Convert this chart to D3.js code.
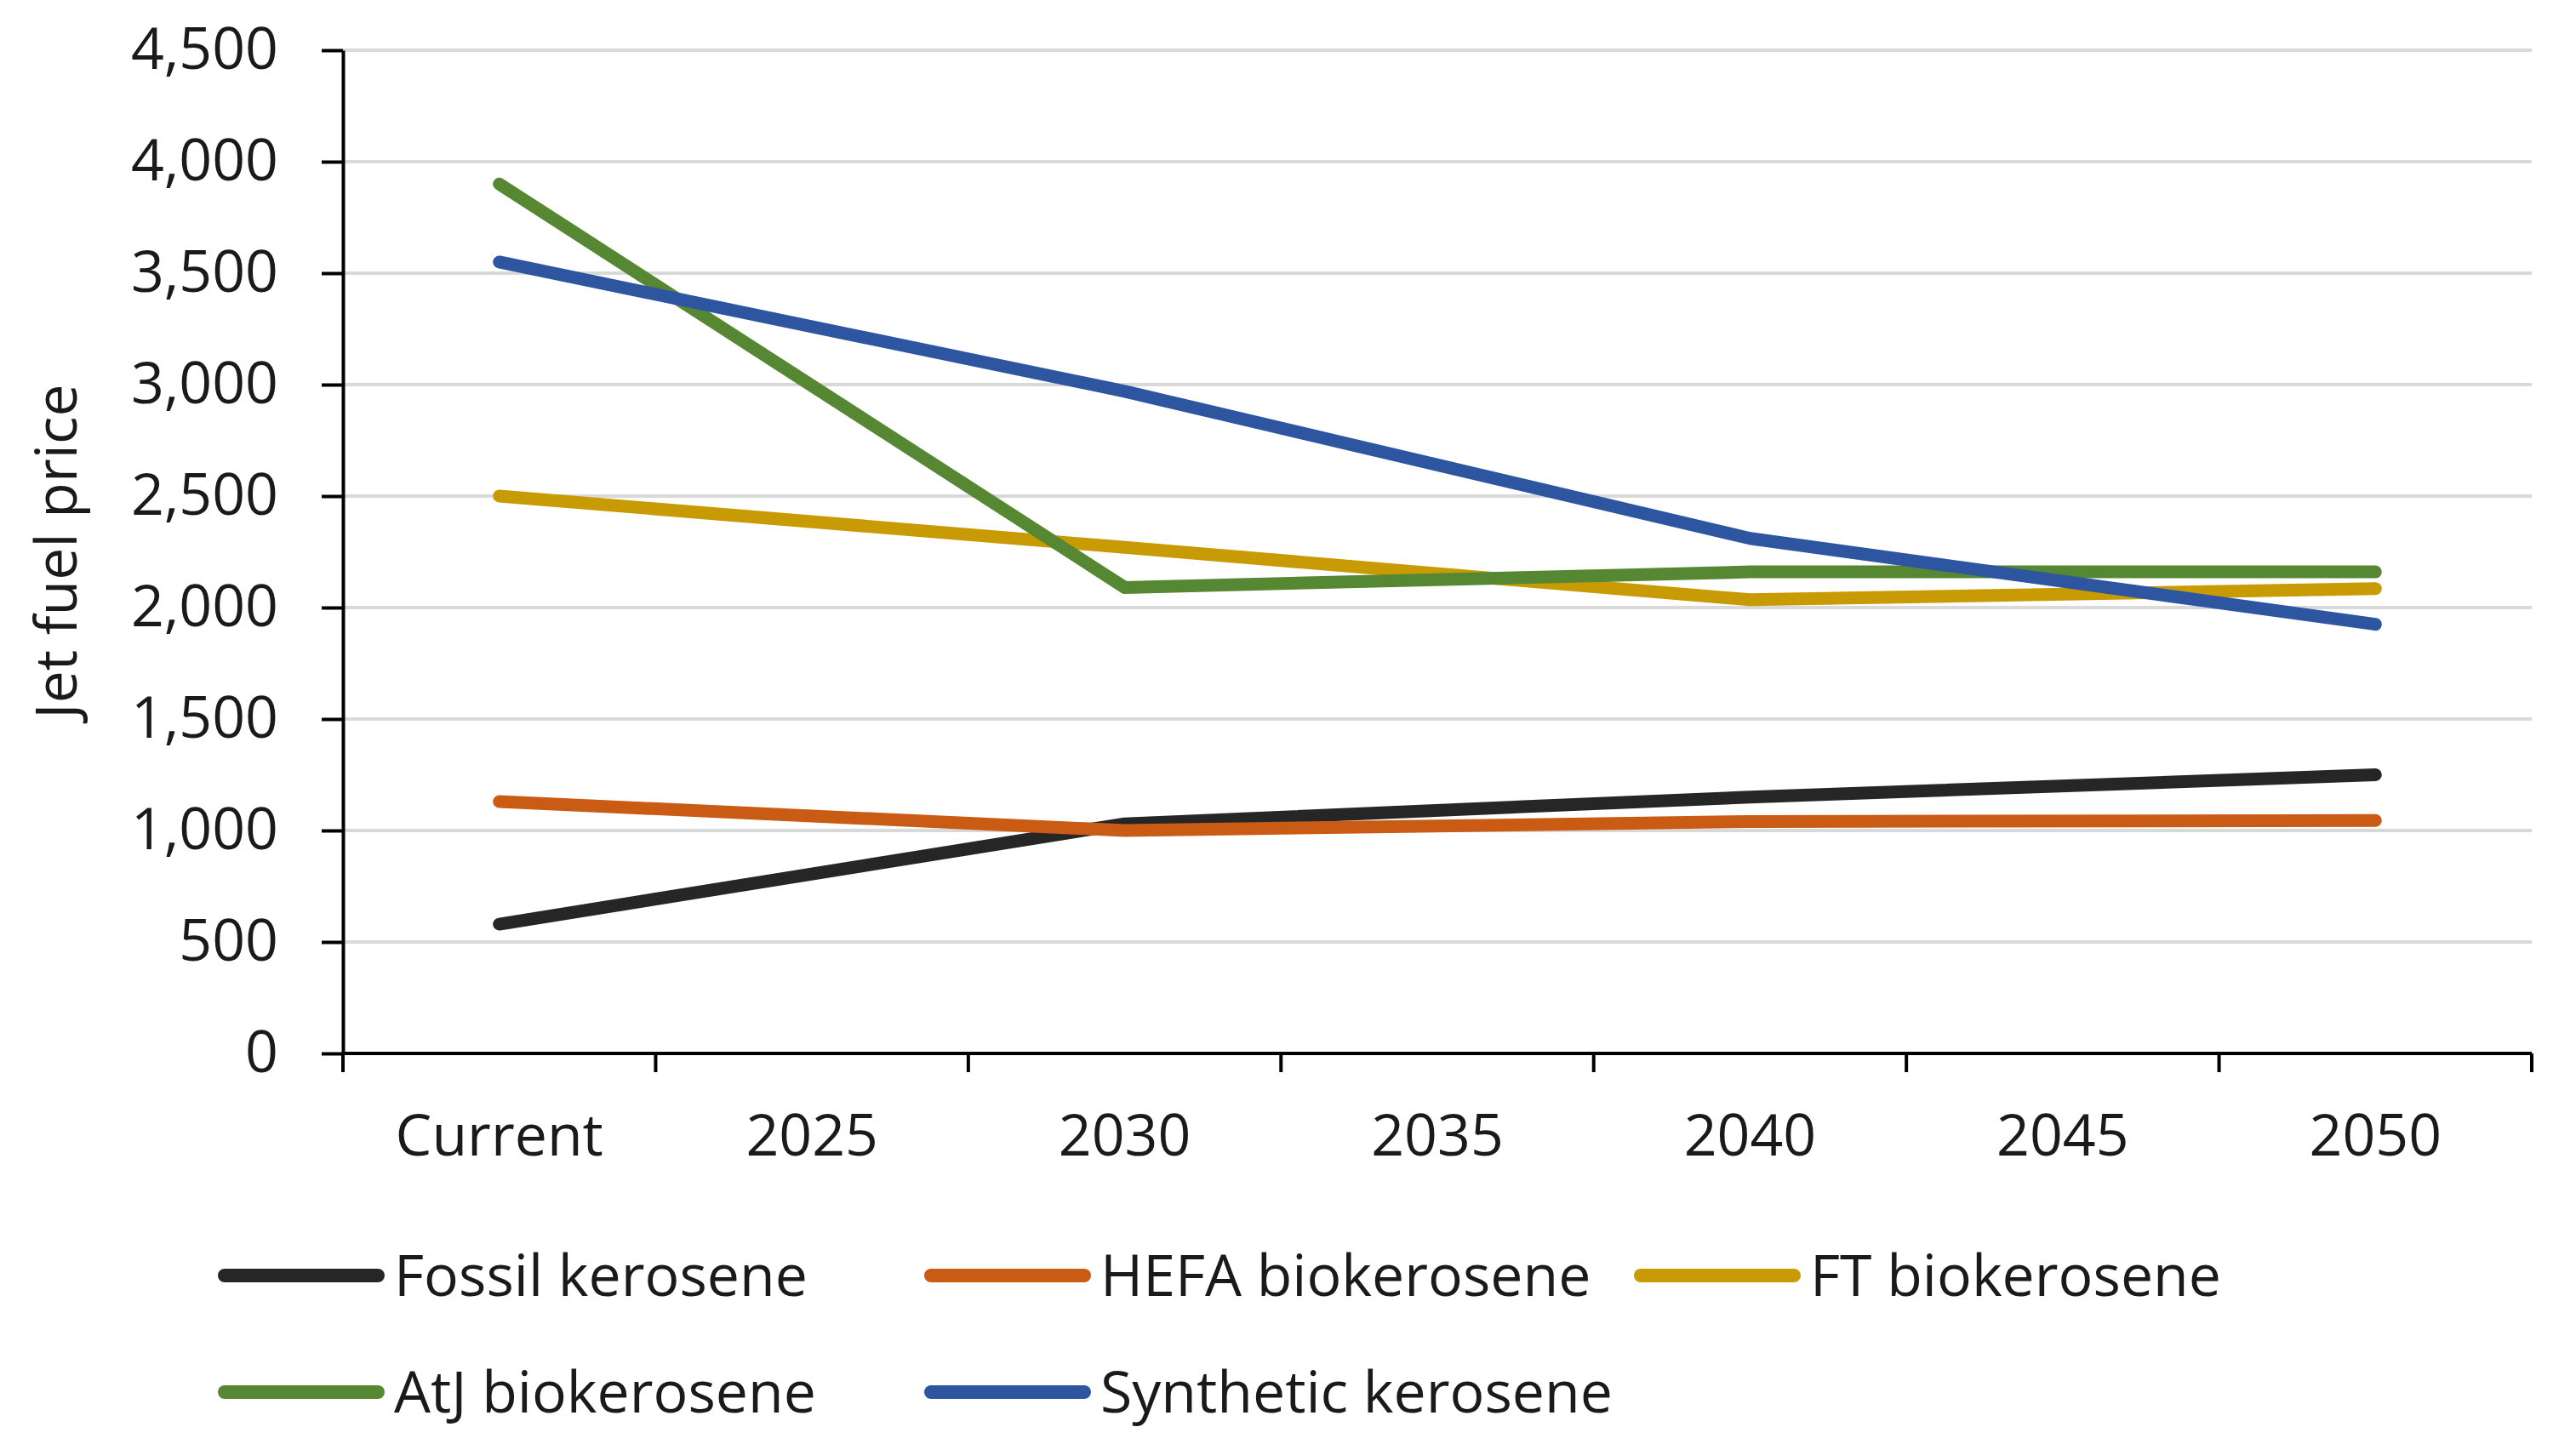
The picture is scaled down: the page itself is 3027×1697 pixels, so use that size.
<head>
    <meta charset="utf-8" />
    <script src="https://d3js.org/d3.v7.min.js"></script>
</head>
<style>
    body { margin: 0; background: #fff; }
    text { font-family: "Open Sans", sans-serif; fill: #1a1a1a; }
</style>
<body>
</body>
<script>
// categories on the x axis
var categories = ["Current", "2025", "2030", "2035", "2040", "2045", "2050"];

// jet fuel price per series (null = no value for that category)
var fossil    = [580,  null, 1030, null, 1150, null, 1250];
var hefa      = [1130, null, 1000, null, 1040, null, 1045];
var ft        = [2500, null, 2270, null, 2035, null, 2085];
var atj       = [3900, null, 2090, null, 2160, null, 2160];
var synthetic = [3550, null, 2970, null, 2310, null, 1925];

var seriesNames  = ["Fossil kerosene", "HEFA biokerosene", "FT biokerosene", "AtJ biokerosene", "Synthetic kerosene"];
var seriesValues = [fossil, hefa, ft, atj, synthetic];
var seriesColors = ["#262626", "#C95B14", "#C89B04", "#568733", "#2E56A0"];

var yTicks = [0, 500, 1000, 1500, 2000, 2500, 3000, 3500, 4000, 4500];

var svg = d3.select("body")
    .append("svg")
    .attr("width", 3027)
    .attr("height", 1697);

var x = d3.scaleBand()
    .domain(categories)
    .range([403, 2975]);

var y = d3.scaleLinear()
    .domain([0, 4500])
    .range([1238, 59]);

// gridlines
svg.append("g")
    .selectAll("line")
    .data(yTicks.filter(function (d) { return d > 0; }))
    .enter()
    .append("line")
        .attr("x1", 403)
        .attr("x2", 2975)
        .attr("y1", function (d) { return y(d); })
        .attr("y2", function (d) { return y(d); })
        .attr("stroke", "#d9d9d9")
        .attr("stroke-width", 4);

// y axis
var yAxis = svg.append("g")
    .attr("transform", "translate(403,0)")
    .call(d3.axisLeft(y)
        .tickValues(yTicks)
        .tickFormat(d3.format(","))
        .tickSize(25)
        .tickSizeOuter(0)
        .tickPadding(51));
yAxis.selectAll("path, line").attr("stroke", "#000").attr("stroke-width", 4);
yAxis.selectAll("text").style("font-size", "68px").attr("fill", "#1a1a1a");

// x axis: line + ticks between categories
var xAxis = svg.append("g").attr("transform", "translate(0,1238)");
xAxis.append("line")
    .attr("x1", 403).attr("x2", 2975)
    .attr("y1", 0).attr("y2", 0)
    .attr("stroke", "#000").attr("stroke-width", 4);
var bounds = categories.map(function (c) { return x(c); }).concat([x.range()[1]]);
xAxis.selectAll(".bt")
    .data(bounds)
    .enter()
    .append("line")
        .attr("class", "bt")
        .attr("x1", function (d) { return d; })
        .attr("x2", function (d) { return d; })
        .attr("y1", 0).attr("y2", 22)
        .attr("stroke", "#000").attr("stroke-width", 4);
xAxis.selectAll(".lbl")
    .data(categories)
    .enter()
    .append("text")
        .attr("class", "lbl")
        .attr("x", function (d) { return x(d) + x.bandwidth() / 2; })
        .attr("y", 120)
        .attr("text-anchor", "middle")
        .style("font-size", "68px")
        .text(function (d) { return d; });

// y axis title
svg.append("text")
    .attr("transform", "translate(90,648) rotate(-90)")
    .attr("text-anchor", "middle")
    .style("font-size", "68px")
    .text("Jet fuel price");

// series lines
var line = d3.line()
    .x(function (d) { return x(d.c) + x.bandwidth() / 2; })
    .y(function (d) { return y(d.v); });

seriesValues.forEach(function (vals, i) {
    var pts = vals.map(function (v, j) { return {c: categories[j], v: v}; })
        .filter(function (d) { return d.v != null; });
    svg.append("path")
        .datum(pts)
        .attr("d", line)
        .attr("fill", "none")
        .attr("stroke", seriesColors[i])
        .attr("stroke-width", 15)
        .attr("stroke-linecap", "round")
        .attr("stroke-linejoin", "round");
});

// legend
var legX = [264, 1094, 1928];
var legY = [1499, 1636];
var legend = svg.append("g")
    .selectAll("g")
    .data(seriesNames)
    .enter()
    .append("g")
        .attr("transform", function (d, i) {
            return "translate(" + legX[i % 3] + "," + legY[Math.floor(i / 3)] + ")";
        });
legend.append("line")
    .attr("x1", 0).attr("x2", 180)
    .attr("y1", 0).attr("y2", 0)
    .attr("stroke", function (d, i) { return seriesColors[i]; })
    .attr("stroke-width", 16)
    .attr("stroke-linecap", "round");
legend.append("text")
    .attr("x", 199)
    .attr("y", 0)
    .attr("dy", "0.35em")
    .style("font-size", "68px")
    .text(function (d) { return d; });
</script>
